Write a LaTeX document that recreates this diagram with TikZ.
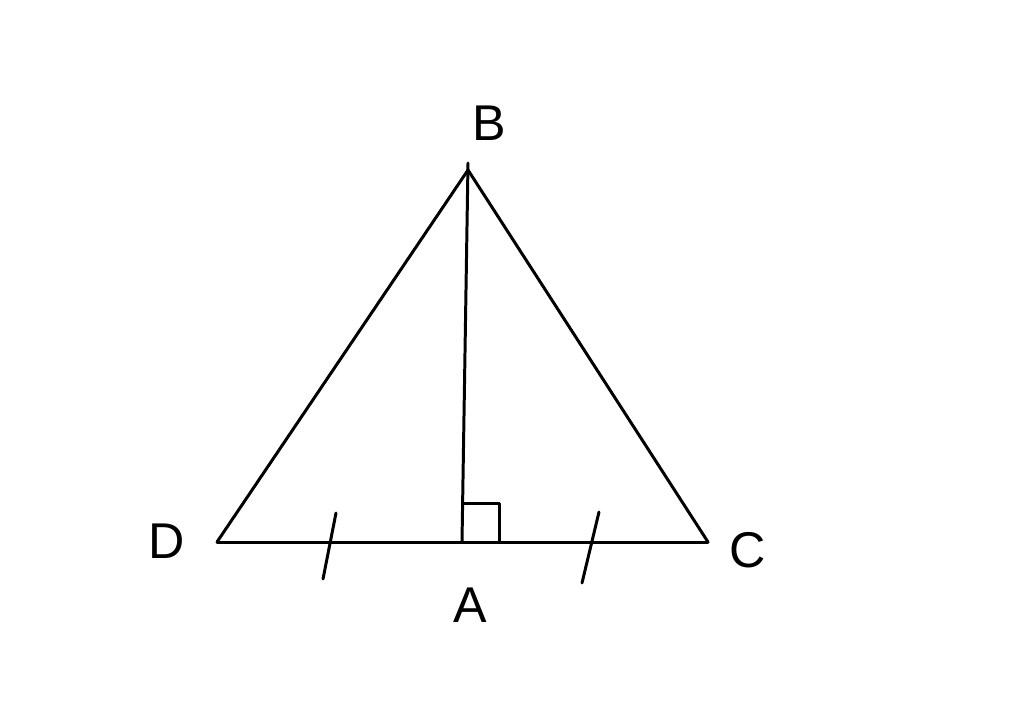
\documentclass[tikz,border=0pt]{standalone}
\usepackage{fontspec}
\setmainfont{Liberation Sans}
\usetikzlibrary{positioning}

\tikzset{
  seg/.style={line width=1.7pt, line cap=round, line join=round},
  vlabel/.style={font=\fontsize{28.6}{34}\selectfont, inner sep=0pt}
}

\begin{document}
\begin{tikzpicture}[x=0.02cm, y=-0.02cm]
    \useasboundingbox (0,0) rectangle (1024,720);
    \coordinate (B) at (468,170);
    \coordinate (Btop) at (468,163);
    \coordinate (D) at (217,542);
    \coordinate (C) at (708,542);
    \coordinate (A) at (462,542);

    \node(LB) [vlabel] at (489,123) {B};
    \node(LD) [vlabel] at (167,541) {D};
    \node(LC) [vlabel] at (748,550) {C};
    \node(LA) [vlabel] at (470,605) {A};

    \draw[seg] (D) -- (B);
    \draw[seg] (B) -- (C);
    \draw[seg] (D) -- (C);
    \draw[seg] (Btop) -- (A);
    \draw[seg] (A) -- ++(0,-39) -- ++(37,0) -- ++(0,39);

    \coordinate (T1a) at (336,513);
    \coordinate (T1b) at (323,579);
    \coordinate (T2a) at (599,512);
    \coordinate (T2b) at (582,583);
    \draw[seg] (T1a) -- (T1b);
    \draw[seg] (T2a) -- (T2b);
  \end{tikzpicture}
\end{document}
